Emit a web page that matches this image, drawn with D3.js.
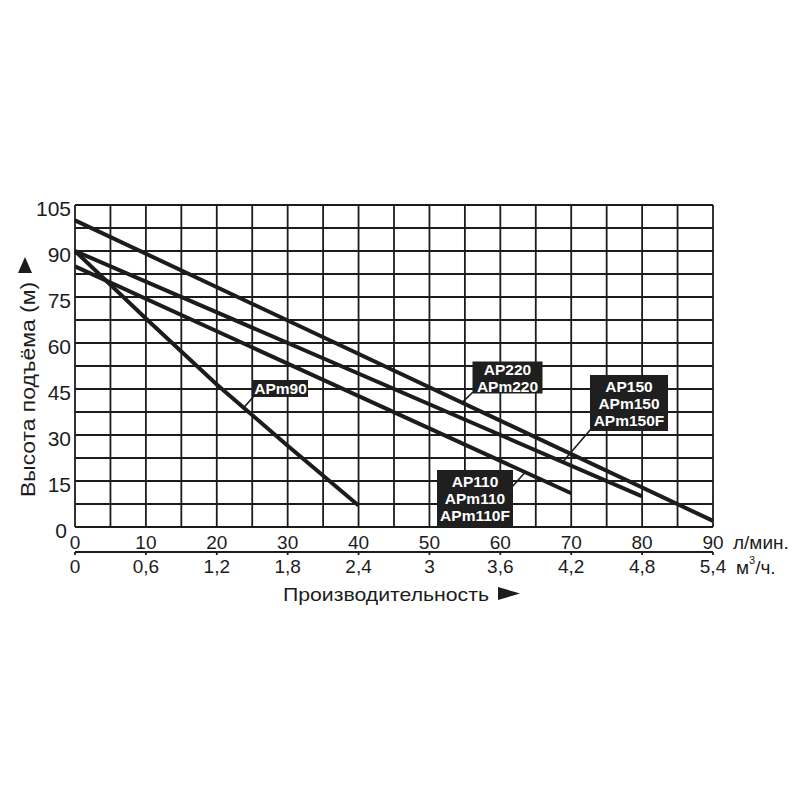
<!DOCTYPE html>
<html><head><meta charset="utf-8">
<script src="https://cdn.jsdelivr.net/npm/d3@7"></script>
<style>body{margin:0;background:#fff}svg{display:block}</style>
</head><body>
<svg id="c" width="800" height="800"></svg>
<script>
// ---- data ----
const flowTicksLmin = [0,10,20,30,40,50,60,70,80,90];
const flowTicksM3h = ["0","0,6","1,2","1,8","2,4","3","3,6","4,2","4,8","5,4"];
const headTicks = [0,15,30,45,60,75,90,105];
const ap220 = [{q:0,h:100},{q:90,h:2}];
const ap150 = [{q:0,h:90},{q:80,h:10}];
const ap110 = [{q:0,h:85},{q:70,h:11}];
const apm90 = [{q:0,h:90},{q:10,h:68},{q:20,h:46.5},{q:30,h:26.5},{q:40,h:7}];
const labelAP220 = ["AP220","APm220"];
const labelAP150 = ["AP150","APm150","APm150F"];
const labelAP110 = ["AP110","APm110","APm110F"];
const labelAPm90 = ["APm90"];

// ---- layout ----
const svg = d3.select("#c");
const L=75, R=713, T=205, B=527;
const x = d3.scaleLinear().domain([0,90]).range([L,R]);
const y = d3.scaleLinear().domain([0,105]).range([B,T]);
const ink = "#1c1c1c";
const font = "'Liberation Sans', Arial, Helvetica, sans-serif";

// grid
const g = svg.append("g");
g.selectAll(".vg").data(d3.range(0,91,5)).join("line")
  .attr("x1",d=>x(d)).attr("x2",d=>x(d)).attr("y1",T).attr("y2",B)
  .attr("stroke",ink).attr("stroke-width",1.8);
g.selectAll(".hg").data(d3.range(0,105.1,7.5)).join("line")
  .attr("y1",d=>y(d)).attr("y2",d=>y(d)).attr("x1",L).attr("x2",R)
  .attr("stroke",ink).attr("stroke-width",1.8);

// y tick labels
svg.append("g").selectAll("text").data(headTicks).join("text")
  .attr("x",d=> d===0?67:71).attr("y",d=>y(d)+3).attr("text-anchor","end")
  .attr("dominant-baseline","central")
  .attr("font-family",font).attr("font-size",21).attr("fill",ink).text(d=>d);

// x axis row 1 labels
svg.append("g").selectAll("text").data(flowTicksLmin).join("text")
  .attr("x",d=>x(d)).attr("y",542).attr("text-anchor","middle")
  .attr("dominant-baseline","central")
  .attr("font-family",font).attr("font-size",19).attr("fill",ink).text(d=>d);
svg.append("text").attr("x",733).attr("y",542).attr("dominant-baseline","central")
  .attr("font-family",font).attr("font-size",19).attr("fill",ink).text("л/мин.");

// second axis
const ax2 = svg.append("g").attr("transform","translate(0,552)");
ax2.append("line").attr("x1",L).attr("x2",R).attr("stroke",ink).attr("stroke-width",1.8);
ax2.selectAll(".t").data(flowTicksLmin).join("line")
  .attr("x1",d=>x(d)).attr("x2",d=>x(d)).attr("y1",0).attr("y2",3)
  .attr("stroke",ink).attr("stroke-width",1.8);
svg.append("g").selectAll("text").data(flowTicksM3h).join("text")
  .attr("x",(d,i)=>x(flowTicksLmin[i])).attr("y",566).attr("text-anchor","middle")
  .attr("dominant-baseline","central")
  .attr("font-family",font).attr("font-size",19).attr("fill",ink).text(d=>d);
const m3 = svg.append("text").attr("x",736).attr("y",567).attr("dominant-baseline","central")
  .attr("font-family",font).attr("font-size",19).attr("fill",ink);
m3.append("tspan").text("м");
m3.append("tspan").attr("font-size",11).attr("dy",-7).text("3");
m3.append("tspan").attr("dy",7).text("/ч.");

// axis titles
svg.append("text").attr("x",283).attr("y",601)
  .attr("font-family",font).attr("font-size",19).attr("fill",ink)
  .attr("textLength",206).attr("lengthAdjust","spacingAndGlyphs")
  .text("Производительность");
svg.append("path").attr("d","M498,587L498,600L520,593.5Z").attr("fill",ink);
svg.append("text").attr("transform","translate(35,497) rotate(-90)")
  .attr("font-family",font).attr("font-size",21).attr("fill",ink)
  .attr("textLength",215).attr("lengthAdjust","spacingAndGlyphs")
  .text("Высота подъёма (м)");
svg.append("path").attr("d","M25,257L18,273L32,273Z").attr("fill",ink);

// curves
const line = d3.line().x(d=>x(d.q)).y(d=>y(d.h));
[ap220,ap150,ap110,apm90].forEach(s=>{
  svg.append("path").attr("d",line(s)).attr("fill","none")
    .attr("stroke",ink).attr("stroke-width",4).attr("stroke-linecap","butt");
});

// labels
function headAt(s,q){
  for(let i=0;i<s.length-1;i++){
    const a=s[i],b=s[i+1];
    if(q>=a.q&&q<=b.q) return a.h+(b.h-a.h)*(q-a.q)/(b.q-a.q);
  }
  return s[s.length-1].h;
}
function label(lines, s, box, from, toQ){
  const lg = svg.append("g");
  lg.append("line").attr("x1",from[0]).attr("y1",from[1])
    .attr("x2",x(toQ)).attr("y2",y(headAt(s,toQ)))
    .attr("stroke",ink).attr("stroke-width",1.6);
  lg.append("rect").attr("x",box[0]).attr("y",box[1]).attr("width",box[2]).attr("height",box[3])
    .attr("fill","#1f1f1f");
  const lh = 17, cy = box[1]+box[3]/2;
  lg.selectAll("text").data(lines).join("text")
    .attr("x",box[0]+box[2]/2).attr("y",(d,i)=>cy+(i-(lines.length-1)/2)*lh)
    .attr("text-anchor","middle").attr("dominant-baseline","central")
    .attr("font-family",font).attr("font-weight","bold").attr("font-size",15.5)
    .attr("fill","#fff").text(d=>d);
}
label(labelAPm90, apm90, [253,380,55,17], [254,396], 23.8);
label(labelAP220, ap220, [472.5,361.5,70,32], [473,392], 54.6);
label(labelAP150, ap150, [590,375,78,56], [591,429], 68.8);
label(labelAP110, ap110, [437,470,76,57], [512,487], 63.5);
</script>
</body></html>
